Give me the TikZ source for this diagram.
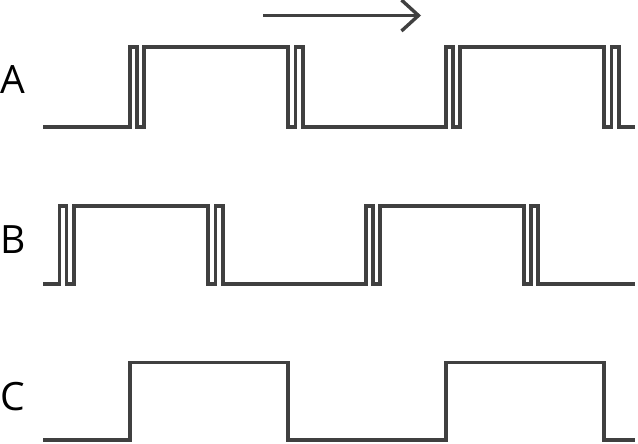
\documentclass[tikz,border=0pt]{standalone}
\usepackage{fontspec}
\setmainfont{Open Sans}
\usetikzlibrary{arrows.meta}
\definecolor{wave}{HTML}{404040}
\begin{document}
\begin{tikzpicture}[x=1pt,y=-1pt,
  wavestyle/.style={draw=wave,line width=3.6pt,line join=miter},
  lbl/.style={font=\fontsize{39}{41}\selectfont,text=black,inner sep=0pt,anchor=center}]
\useasboundingbox (0,0) rectangle (638,444);
% arrow
\coordinate (arrS) at (263,15.5);
\coordinate (arrE) at (421,15.5);
\draw[wave,line width=3.4pt,-{Straight Barb[length=17pt,width=31pt,line join=miter]}] (arrS) -- (arrE);
% labels
\node[lbl] (la) at (13,80) {A};
\node[lbl] (lb) at (13,240) {B};
\node[lbl] (lc) at (13,397) {C};
% signal A
\draw[wavestyle] (43,127) -- (130,127) -- (130,47) -- (137,47) -- (137,127) -- (144,127) -- (144,47)
  -- (288,47) -- (288,127) -- (295.5,127) -- (295.5,47) -- (303,47) -- (303,127)
  -- (446,127) -- (446,47) -- (453,47) -- (453,127) -- (460,127) -- (460,47)
  -- (604,47) -- (604,127) -- (611.5,127) -- (611.5,47) -- (619,47) -- (619,127) -- (635,127);
% signal B
\draw[wavestyle] (43,284) -- (59.5,284) -- (59.5,206) -- (66.5,206) -- (66.5,284) -- (74,284) -- (74,206)
  -- (208,206) -- (208,284) -- (215.5,284) -- (215.5,206) -- (223,206) -- (223,284)
  -- (366,284) -- (366,206) -- (373,206) -- (373,284) -- (380,284) -- (380,206)
  -- (524,206) -- (524,284) -- (531,284) -- (531,206) -- (538,206) -- (538,284) -- (635,284);
% signal C
\draw[wavestyle] (43,440) -- (130,440) -- (130,362.5) -- (288,362.5) -- (288,440)
  -- (446,440) -- (446,362.5) -- (604,362.5) -- (604,440) -- (635,440);
\end{tikzpicture}
\end{document}
